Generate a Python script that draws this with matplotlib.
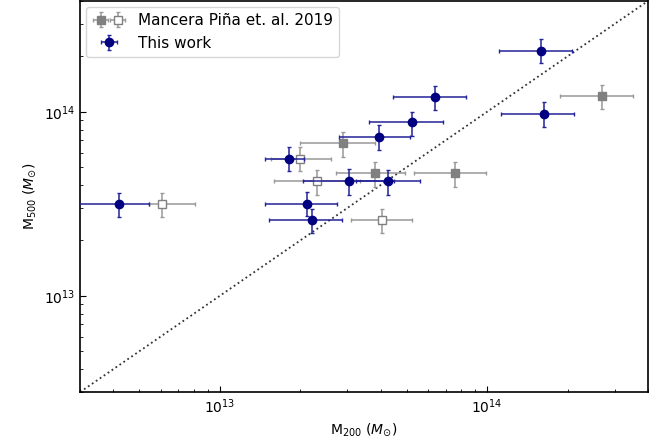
import matplotlib.pyplot as plt
from matplotlib.legend_handler import HandlerTuple

# This work (M200, M500) with asymmetric errors
work_m200 = [4.18e12, 1.81e13, 2.11e13, 2.21e13, 3.03e13, 3.94e13, 4.26e13, 5.25e13, 6.39e13, 1.59e14, 1.63e14]
work_m200_lo = [2.5e12, 1.47e13, 1.47e13, 1.53e13, 2.04e13, 2.78e13, 3.23e13, 3.61e13, 4.45e13, 1.11e14, 1.13e14]
work_m200_hi = [5.42e12, 2.06e13, 2.75e13, 2.87e13, 4.48e13, 5.16e13, 5.61e13, 6.86e13, 8.35e13, 2.08e14, 2.12e14]
work_m500 = [3.14e13, 5.56e13, 3.14e13, 2.58e13, 4.18e13, 7.30e13, 4.18e13, 8.74e13, 1.20e14, 2.15e14, 9.71e13]
work_m500_lo = [2.67e13, 4.78e13, 2.70e13, 2.19e13, 3.53e13, 6.20e13, 3.53e13, 7.39e13, 1.02e14, 1.83e14, 8.25e13]
work_m500_hi = [3.60e13, 6.46e13, 3.65e13, 2.95e13, 4.86e13, 8.49e13, 4.82e13, 1.00e14, 1.38e14, 2.47e14, 1.13e14]

# Mancera Pina et al. 2019, filled squares
mp_m200 = [2.90e13, 3.82e13, 7.61e13, 2.69e14]
mp_m200_lo = [1.99e13, 2.71e13, 5.32e13, 1.87e14]
mp_m200_hi = [3.82e13, 4.93e13, 9.94e13, 3.51e14]
mp_m500 = [6.77e13, 4.64e13, 4.64e13, 1.22e14]
mp_m500_lo = [5.70e13, 3.91e13, 3.91e13, 1.03e14]
mp_m500_hi = [7.75e13, 5.33e13, 5.33e13, 1.39e14]

# Mancera Pina et al. 2019, open squares
mpo_m200 = [6.05e12, 1.99e13, 2.30e13, 4.03e13]
mpo_m200_lo = [5.42e12, 1.55e13, 1.60e13, 3.09e13]
mpo_m200_hi = [8.06e12, 2.60e13, 3.34e13, 5.25e13]
mpo_m500 = [3.14e13, 5.56e13, 4.18e13, 2.58e13]
mpo_m500_lo = [2.67e13, 4.78e13, 3.53e13, 2.19e13]
mpo_m500_hi = [3.60e13, 6.46e13, 4.80e13, 2.95e13]

lims = [3e12, 4e14]


def errs(vals, lo, hi):
    return [[v - l for v, l in zip(vals, lo)], [h - v for v, h in zip(vals, hi)]]


fig = plt.figure(figsize=(6.62, 4.45), dpi=100)
ax = fig.add_axes([0.121, 0.119, 0.858, 0.879])

ax.plot(lims, lims, ls=":", color="#333333", lw=1.3, zorder=1)

h_mp = ax.errorbar(mp_m200, mp_m500,
                   xerr=errs(mp_m200, mp_m200_lo, mp_m200_hi),
                   yerr=errs(mp_m500, mp_m500_lo, mp_m500_hi),
                   fmt="s", color="gray", ecolor="#999999", ms=5.5, elinewidth=1.1,
                   capsize=1.5, zorder=2)
h_mpo = ax.errorbar(mpo_m200, mpo_m500,
                    xerr=errs(mpo_m200, mpo_m200_lo, mpo_m200_hi),
                    yerr=errs(mpo_m500, mpo_m500_lo, mpo_m500_hi),
                    fmt="s", mfc="white", mec="gray", ecolor="#999999", ms=5.5,
                    elinewidth=1.1, capsize=1.5, zorder=2)
h_work = ax.errorbar(work_m200, work_m500,
                     xerr=errs(work_m200, work_m200_lo, work_m200_hi),
                     yerr=errs(work_m500, work_m500_lo, work_m500_hi),
                     fmt="o", color="navy", ecolor="#23239a", ms=6, elinewidth=1.1,
                     capsize=1.5, zorder=3)

ax.set_xscale("log")
ax.set_yscale("log")
ax.set_xlim(lims)
ax.set_ylim(lims)
ax.tick_params(which="both", direction="in")
ax.tick_params(which="major", length=4)
ax.tick_params(which="minor", length=2)
for s in ax.spines.values():
    s.set_linewidth(1.2)

ax.set_xlabel(r"M$_{200}$ ($M_{\odot}$)", fontsize=10)
ax.set_ylabel(r"M$_{500}$ ($M_{\odot}$)", fontsize=10)

ax.legend([(h_mp, h_mpo), h_work], ["Mancera Piña et. al. 2019", "This work"],
          handler_map={tuple: HandlerTuple(ndivide=None, pad=0.0)},
          loc="upper left", fontsize=11, borderaxespad=0.4, handlelength=2.2)

fig.savefig("out.png", dpi=100)
